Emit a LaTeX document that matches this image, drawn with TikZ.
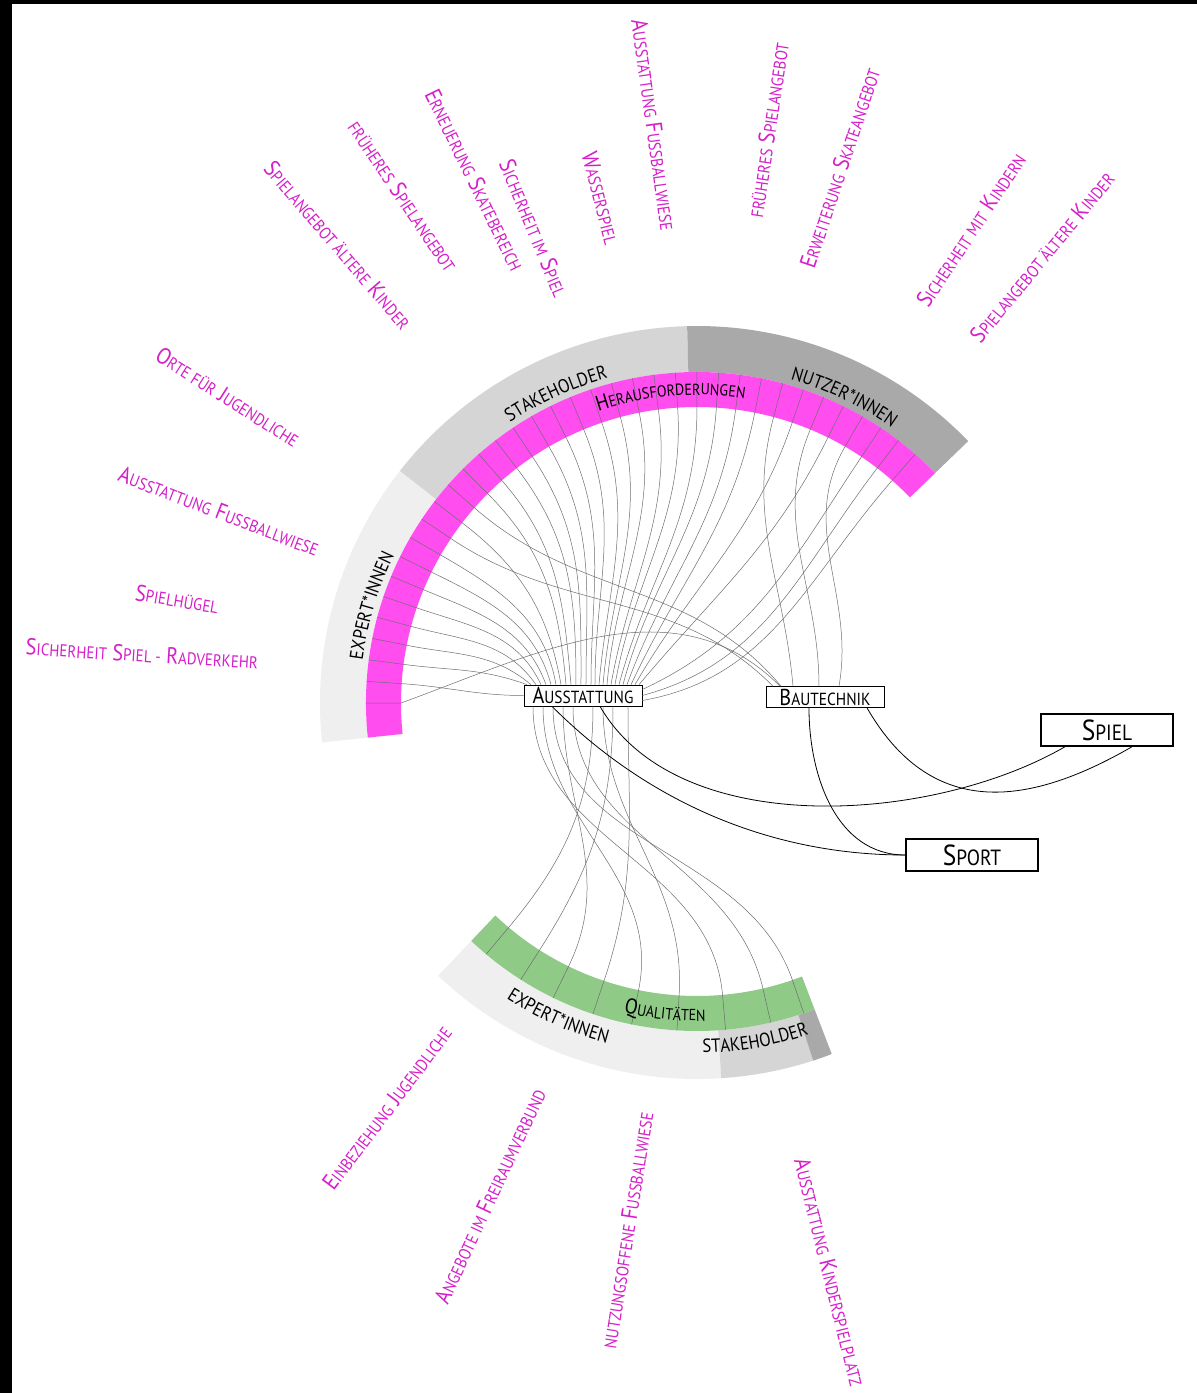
\documentclass[tikz,border=0pt]{standalone}
\usepackage{fontspec}
\setmainfont{PT Sans}[FakeStretch=0.88]
\usepackage{tikz}
\usetikzlibrary{decorations.text}

\definecolor{pinkband}{RGB}{255,77,240}
\definecolor{greenband}{RGB}{143,202,135}
\definecolor{expgray}{RGB}{239,239,239}
\definecolor{stakegray}{RGB}{213,213,213}
\definecolor{nutzgray}{RGB}{169,169,169}
\definecolor{labmag}{RGB}{214,31,201}
\definecolor{chordgray}{RGB}{110,110,110}

\newcommand{\kapit}[2][17]{{\fontsize{#1}{#1}\selectfont #2}}
\newcommand{\ringfont}{\fontsize{19}{19}\selectfont}
\newcommand{\bandbig}{\fontsize{21.5}{21.5}\selectfont}
\newcommand{\bandsmall}{\fontsize{16}{16}\selectfont}

\tikzset{
  chord/.style={draw=chordgray, line width=0.5pt},
  blackline/.style={draw=black, line width=0.8pt},
  lab/.style={text=labmag, font=\fontsize{23}{23}\selectfont, inner sep=0pt},
  catbox/.style={draw=black, fill=white, line width=0.7pt, inner sep=0pt,
    minimum width=118pt, minimum height=21pt, font=\fontsize{23}{23}\selectfont},
  bigbox/.style={draw=black, fill=white, line width=1.5pt, inner sep=0pt,
    minimum width=132pt, minimum height=32pt, font=\fontsize{29}{29}\selectfont},
}

\begin{document}
\begin{tikzpicture}[x=1pt, y=1pt]
		\fill[white] (-697,-690) rectangle (500,703);
		\fill[black] (-697,-690) rectangle (-685,703);
		\fill[black] (-697,699) rectangle (500,703);
		\useasboundingbox (-697,-690) rectangle (500,703);

		% ring of the challenges
		\fill[expgray] (186:377) arc[start angle=186, end angle=142, radius=377] -- (142:331) arc[start angle=142, end angle=186, radius=331] -- cycle;
		\fill[stakegray] (142:377) arc[start angle=142, end angle=91.5, radius=377] -- (91.5:331) arc[start angle=91.5, end angle=142, radius=331] -- cycle;
		\fill[nutzgray] (91.5:377) arc[start angle=91.5, end angle=44, radius=377] -- (44:331) arc[start angle=44, end angle=91.5, radius=331] -- cycle;
		\fill[pinkband] (186:331) arc[start angle=186, end angle=44, radius=331] -- (44:296) arc[start angle=44, end angle=186, radius=296] -- cycle;

		% ring of the qualities
		\fill[expgray] (226.5:376) arc[start angle=226.5, end angle=273.7, radius=376] -- (273.7:328) arc[start angle=273.7, end angle=226.5, radius=328] -- cycle;
		\fill[stakegray] (273.7:376) arc[start angle=273.7, end angle=288, radius=376] -- (288:328) arc[start angle=288, end angle=273.7, radius=328] -- cycle;
		\fill[nutzgray] (288:376) arc[start angle=288, end angle=291, radius=376] -- (291:328) arc[start angle=291, end angle=288, radius=328] -- cycle;
		\fill[greenband] (226.5:328) arc[start angle=226.5, end angle=291, radius=328] -- (291:293) arc[start angle=291, end angle=226.5, radius=293] -- cycle;

		\node[catbox] (aus) at (-114,7.5) {A\kapit[17.5]{USSTATTUNG}};
		\node[catbox] (bau) at (128,6) {B\kapit[17.5]{AUTECHNIK}};
		\node[bigbox] (spiel) at (410,-27) {S\kapit[22]{PIEL}};
		\node[bigbox] (sport) at (275,-152) {S\kapit[22]{PORT}};

		% chords from the challenges
		\draw[chord] (180:331) -- (180:296) to[out=20, in=135] ([xshift=-45]bau.north);
		\draw[chord] (176.25:331) -- (176.25:296) to[out=-3.75, in=180] (aus.west);
		\draw[chord] (172.5:331) -- (172.5:296) to[out=-7.5, in=160] ([xshift=-56]aus.north);
		\draw[chord] (168.75:331) -- (168.75:296) to[out=-11.25, in=140] ([xshift=-52]aus.north);
		\draw[chord] (165:331) -- (165:296) to[out=-15, in=125] ([xshift=-47]aus.north);
		\draw[chord] (161.25:331) -- (161.25:296) to[out=-18.75, in=115] ([xshift=-42]aus.north);
		\draw[chord] (157.5:331) -- (157.5:296) to[out=-22.5, in=110] ([xshift=-37]aus.north);
		\draw[chord] (153.75:331) -- (153.75:296) to[out=-26.25, in=105] ([xshift=-32]aus.north);
		\draw[chord] (150:331) -- (150:296) to[out=-30, in=100] ([xshift=-27]aus.north);
		\draw[chord] (146.25:331) -- (146.25:296) to[out=-33.75, in=135] ([xshift=-52]bau.north);
		\draw[chord] (142.5:331) -- (142.5:296) to[out=-37.5, in=100] ([xshift=-22]aus.north);
		\draw[chord] (138.75:331) -- (138.75:296) to[out=-41.25, in=130] ([xshift=-44]bau.north);
		\draw[chord] (135:331) -- (135:296) to[out=-45, in=95] ([xshift=-17]aus.north);
		\draw[chord] (131.25:331) -- (131.25:296) to[out=-48.75, in=95] ([xshift=-12]aus.north);
		\draw[chord] (127.5:331) -- (127.5:296) to[out=-52.5, in=90] ([xshift=-7]aus.north);
		\draw[chord] (123.75:331) -- (123.75:296) to[out=-56.25, in=90] ([xshift=-2]aus.north);
		\draw[chord] (120:331) -- (120:296) to[out=-60, in=90] ([xshift=3]aus.north);
		\draw[chord] (116.25:331) -- (116.25:296) to[out=-63.75, in=90] ([xshift=8]aus.north);
		\draw[chord] (112.5:331) -- (112.5:296) to[out=-67.5, in=90] ([xshift=12]aus.north);
		\draw[chord] (108.75:331) -- (108.75:296) to[out=-71.25, in=85] ([xshift=16]aus.north);
		\draw[chord] (105:331) -- (105:296) to[out=-75, in=85] ([xshift=20]aus.north);
		\draw[chord] (101.25:331) -- (101.25:296) to[out=-78.75, in=85] ([xshift=24]aus.north);
		\draw[chord] (97.5:331) -- (97.5:296) to[out=-82.5, in=80] ([xshift=28]aus.north);
		\draw[chord] (93.75:331) -- (93.75:296) to[out=-86.25, in=80] ([xshift=32]aus.north);
		\draw[chord] (90:331) -- (90:296) to[out=-90, in=75] ([xshift=36]aus.north);
		\draw[chord] (86.25:331) -- (86.25:296) to[out=-93.75, in=75] ([xshift=40]aus.north);
		\draw[chord] (82.5:331) -- (82.5:296) to[out=-97.5, in=70] ([xshift=44]aus.north);
		\draw[chord] (78.75:331) -- (78.75:296) to[out=-101.25, in=65] ([xshift=48]aus.north);
		\draw[chord] (75:331) -- (75:296) to[out=-105, in=95] ([xshift=-32]bau.north);
		\draw[chord] (71.25:331) -- (71.25:296) to[out=-108.75, in=60] ([xshift=52]aus.north);
		\draw[chord] (67.5:331) -- (67.5:296) to[out=-112.5, in=90] ([xshift=-6]bau.north);
		\draw[chord] (63.75:331) -- (63.75:296) to[out=-116.25, in=50] ([xshift=56]aus.north);
		\draw[chord] (60:331) -- (60:296) to[out=-120, in=80] ([xshift=14]bau.north);
		\draw[chord] (56.25:331) -- (56.25:296) to[out=-123.75, in=25] ([yshift=6]aus.east);
		\draw[chord] (52.5:331) -- (52.5:296) to[out=-127.5, in=15] (aus.east);
		\draw[chord] (48.75:331) -- (48.75:296) to[out=-131.25, in=10] ([yshift=-5]aus.east);

		% chords to the qualities
		\draw[chord] ([xshift=10]aus.south) to[out=-90, in=50] (230:293) -- (230:328);
		\draw[chord] ([xshift=30]aus.south) to[out=-90, in=57.5] (237.5:293) -- (237.5:328);
		\draw[chord] ([xshift=-20]aus.south) to[out=-90, in=64] (244:293) -- (244:328);
		\draw[chord] ([xshift=45]aus.south) to[out=-90, in=71.5] (251.5:293) -- (251.5:328);
		\draw[chord] ([xshift=-40]aus.south) to[out=-90, in=78.5] (258.5:293) -- (258.5:328);
		\draw[chord] ([xshift=20]aus.south) to[out=-90, in=86.5] (266.5:293) -- (266.5:328);
		\draw[chord] ([xshift=-50]aus.south) to[out=-90, in=95] (275:293) -- (275:328);
		\draw[chord] ([xshift=-10]aus.south) to[out=-90, in=103] (283:293) -- (283:328);
		\draw[chord] ([xshift=-30]aus.south) to[out=-90, in=109] (289:293) -- (289:328);

		\draw[blackline] ([xshift=-31]aus.south) to[out=-45, in=180, looseness=0.9] (sport.west);
		\draw[blackline] ([xshift=17]aus.south) to[out=-60, in=-150, looseness=0.85] ([xshift=-42]spiel.south);
		\draw[blackline] ([xshift=-16]bau.south) to[out=-90, in=180] (sport.west);
		\draw[blackline] ([xshift=42]bau.south) to[out=-60, in=-150, looseness=1.2] ([xshift=25]spiel.south);

		% texts on the rings
		\path[decorate, decoration={text along path, text align=center, text={|\ringfont|STAKEHOLDER}}] (139.5:337) arc[start angle=139.5, end angle=89.5, radius=337];
		\path[decorate, decoration={text along path, text align=center, text={|\ringfont|NUTZER*INNEN}}] (89.3:337) arc[start angle=89.3, end angle=39.3, radius=337];
		\path[decorate, decoration={text along path, text align=center, text={|\ringfont|EXPERT*INNEN}}] (188.3:337) arc[start angle=188.3, end angle=138.3, radius=337];
		\path[decorate, decoration={text along path, text align=center, text={|\bandbig|H|\bandsmall|ERAUSFORDERUNGEN}}] (124.9:308) arc[start angle=124.9, end angle=64.9, radius=308];
		\path[decorate, decoration={text along path, text align=center, text={|\ringfont|EXPERT*INNEN}}] (221.2:352) arc[start angle=221.2, end angle=271.2, radius=352];
		\path[decorate, decoration={text along path, text align=center, text={|\ringfont|STAKEHOLDER}}] (254.8:350) arc[start angle=254.8, end angle=304.8, radius=350];
		\path[decorate, decoration={text along path, text align=center, text={|\bandbig|Q|\bandsmall|UALITÄTEN}}] (239.1:318) arc[start angle=239.1, end angle=289.1, radius=318];

		% labels of the challenges
		\node[lab, rotate=-49.3] (l1) at (-359,458) {S\kapit{PIELANGEBOT ÄLTERE} K\kapit{INDER}};
		\node[lab, rotate=-56] (l2) at (-294,507) {\kapit{FRÜHERES} S\kapit{PIELANGEBOT}};
		\node[lab, rotate=-64] (l3) at (-222,523) {E\kapit{RNEUERUNG} S\kapit{KATEBEREICH}};
		\node[lab, rotate=-67.5] (l4) at (-163,475) {S\kapit{ICHERHEIT IM} S\kapit{PIEL}};
		\node[lab, rotate=-75.5] (l5) at (-96,505) {W\kapit{ASSERSPIEL}};
		\node[lab, rotate=-82] (l6) at (-43,578) {A\kapit{USSTATTUNG} F\kapit{USSBALLWIESE}};
		\node[lab, rotate=81.5] (l7) at (71,573) {\kapit{FRÜHERES} S\kapit{PIELANGEBOT}};
		\node[lab, rotate=71.5] (l8) at (143,535) {E\kapit{RWEITERUNG} S\kapit{KATEANGEBOT}};
		\node[lab, rotate=56.5] (l9) at (274,473) {S\kapit{ICHERHEIT MIT} K\kapit{INDERN}};
		\node[lab, rotate=50.5] (l10) at (345,446) {S\kapit{PIELANGEBOT ÄLTERE} K\kapit{INDER}};
		\node[lab, rotate=-32.5] (l11) at (-469,306) {O\kapit{RTE FÜR} J\kapit{UGENDLICHE}};
		\node[lab, rotate=-21] (l12) at (-478,192) {A\kapit{USSTATTUNG} F\kapit{USSBALLWIESE}};
		\node[lab, rotate=-9.5] (l13) at (-520,104) {S\kapit{PIELHÜGEL}};
		\node[lab, rotate=-3.5] (l14) at (-555,49) {S\kapit{ICHERHEIT} S\kapit{PIEL -} R\kapit{ADVERKEHR}};

		% labels of the qualities
		\node[lab, rotate=53] (q1) at (-310,-405) {E\kapit{INBEZIEHUNG} J\kapit{UGENDLICHE}};
		\node[lab, rotate=65] (q2) at (-207,-493) {A\kapit{NGEBOTE IM} F\kapit{REIRAUMVERBUND}};
		\node[lab, rotate=81] (q3) at (-70,-527) {\kapit{NUTZUNGSOFFENE} F\kapit{USSBALLWIESE}};
		\node[lab, rotate=-76] (q4) at (133,-569) {A\kapit{USSTATTUNG} K\kapit{INDERSPIELPLATZ}};
\end{tikzpicture}
\end{document}
